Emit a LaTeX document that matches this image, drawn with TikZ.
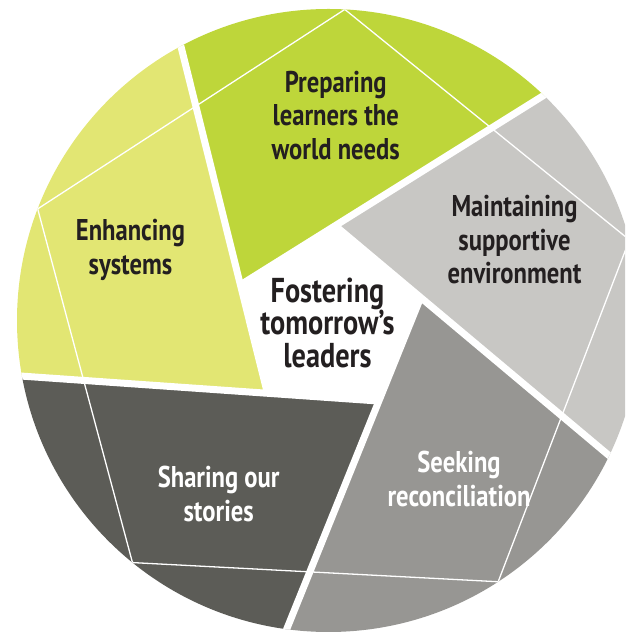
\documentclass[tikz,border=0pt]{standalone}
\usepackage{fontspec}
\setmainfont[FakeStretch=0.82]{PT Sans}
\usetikzlibrary{calc}
\definecolor{segGreen}{RGB}{190,214,58}
\definecolor{segYellow}{RGB}{226,230,115}
\definecolor{segLight}{RGB}{200,199,196}
\definecolor{segMid}{RGB}{151,150,147}
\definecolor{segDark}{RGB}{92,92,87}
\definecolor{textDark}{RGB}{35,31,32}
\begin{document}
\begin{tikzpicture}[x=1pt,y=1pt,
gap/.style={white,line width=7pt},
thinline/.style={white,line width=1.3pt},
lab/.style={align=center,font=\bfseries\fontsize{30}{33.5}\selectfont,text=textDark,inner sep=0pt},
labw/.style={lab,text=white},
labc/.style={lab,font=\bfseries\fontsize{34.5}{32.5}\selectfont},
]
\useasboundingbox (0,0) rectangle (625,634);

% centre and the two pentagons
\coordinate (O) at (328.5,313.5);
\foreach \n/\a in {A/158,B/86,C/14,D/-58,E/-130}
	\coordinate (\n) at ($(O)+(\a:95)$);
\foreach \n/\a in {P/87,Q/15,R/-57,S/-129,T/159}
	\coordinate (\n) at ($(O)+(\a:311.5)$);

\begin{scope}
\clip (0,0) rectangle (625,634);
\clip (O) circle (311.5);
% segments
\fill[segGreen]  (A) -- ($(E)!7!(A)$) -- ($(A)!7!(B)$) -- cycle;
\fill[segLight]  (B) -- ($(A)!7!(B)$) -- ($(B)!7!(C)$) -- cycle;
\fill[segMid]    (C) -- ($(B)!7!(C)$) -- ($(C)!7!(D)$) -- cycle;
\fill[segDark]   (D) -- ($(C)!7!(D)$) -- ($(D)!7!(E)$) -- cycle;
\fill[segYellow] (E) -- ($(D)!7!(E)$) -- ($(E)!7!(A)$) -- cycle;
% outer pentagon
\draw[thinline] (P) -- (Q) -- (R) -- (S) -- (T) -- cycle;
% gaps
\draw[gap] (A) -- ($(A)!7!(B)$);
\draw[gap] (B) -- ($(B)!7!(C)$);
\draw[gap] (C) -- ($(C)!7!(D)$);
\draw[gap] (D) -- ($(D)!7!(E)$);
\draw[gap] (E) -- ($(E)!7!(A)$);
\fill[white] (A) -- (B) -- (C) -- (D) -- (E) -- cycle;
\end{scope}

% labels
\node[lab]  (prep)  at (335.7,518.5) {Preparing\\learners the\\world needs};
\node[lab]  (maint) at (514.5,394)   {Maintaining\\supportive\\environment};
\node[lab]  (enh)   at (130.5,384)   {Enhancing\\systems};
\node[labw] (share) at (218.7,139.8) {Sharing our\\stories};
\node[labw] (seek)  at (459,154.8)   {Seeking\\reconciliation};
\node[labc] (core)  at (327.5,311.5) {Fostering\\tomorrow’s\\leaders};

\end{tikzpicture}
\end{document}
